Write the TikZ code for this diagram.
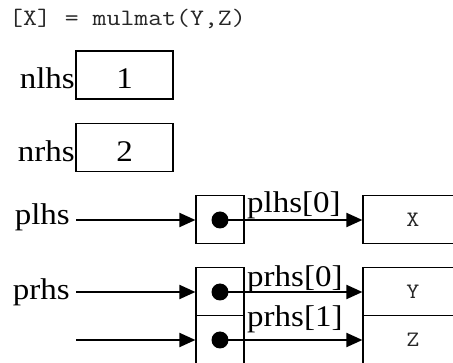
\documentclass[tikz,border=0pt]{standalone}
\usepackage{fontspec}
\setmainfont[FakeStretch=1.1]{Liberation Serif}
\newfontfamily\codefont[FakeStretch=1.15]{Latin Modern Mono}
\usepackage{tikz}
\usetikzlibrary{arrows.meta, positioning}

\begin{document}
\begin{tikzpicture}[
    x=1pt, y=-1pt,
    lbl/.style={font=\fontsize{30}{32}\selectfont, inner sep=3pt},
    numbox/.style={draw, line width=1.2pt, minimum width=97pt, minimum height=48pt,
        font=\fontsize{30}{32}\selectfont, text height=28pt, text depth=0pt},
    cell/.style={draw, line width=1.2pt, minimum width=48pt, minimum height=48pt, inner sep=0pt},
    dot/.style={circle, fill, minimum size=17pt, inner sep=0pt},
    mxbox/.style={draw, line width=1.2pt, minimum width=100pt, minimum height=48pt,
        font=\codefont\fontsize{22}{24}\selectfont, text=black!85},
    ptr/.style={line width=2pt, -{Triangle[length=16pt, width=14pt]}}
    ]
    \useasboundingbox (0,0) rectangle (453,363);

    % call line
    \node[anchor=base west, inner sep=0pt, font=\codefont\fontsize{23.5}{25}\selectfont, text=black!85]
        (call) at (9,26) {[X] = mulmat(Y,Z)};

    % counts
    \node[numbox] (nlhsbox) at (124.5,75) {1};
    \node[lbl, anchor=base east] (nlhs) at (78,89) {nlhs};
    \node[numbox] (nrhsbox) at (124.5,147.5) {2};
    \node[lbl, anchor=base east] (nrhs) at (78,162) {nrhs};

    % output pointers
    \node[lbl, anchor=base east] (plhs) at (73,225) {plhs};
    \coordinate (plin) at (76,220);
    \node[cell] (pcell) at (220,219.5) {};
    \node[dot] (pdot) at (220,220) {};
    \node[mxbox] (xbox) at (413,219.5) {X};
    \draw[ptr] (plin) -- (pcell.west |- plin);
    \draw[ptr] (pdot.center) -- (xbox.west |- pdot);
    \node[lbl, anchor=base west] (p0) at (244,213) {plhs[0]};

    % input pointers
    \node[lbl, anchor=base east] (prhs) at (73,300) {prhs};
    \coordinate (prin0) at (76,292);
    \coordinate (prin1) at (76,340);
    \node[cell] (rcell0) at (220,291.5) {};
    \node[cell] (rcell1) at (220,339.5) {};
    \node[dot] (rdot0) at (220,292) {};
    \node[dot] (rdot1) at (220,340) {};
    \node[mxbox] (ybox) at (413,291.5) {Y};
    \node[mxbox] (zbox) at (413,339.5) {Z};
    \draw[ptr] (prin0) -- (rcell0.west |- prin0);
    \draw[ptr] (prin1) -- (rcell1.west |- prin1);
    \draw[ptr] (rdot0.center) -- (ybox.west |- rdot0);
    \draw[ptr] (rdot1.center) -- (zbox.west |- rdot1);
    \node[lbl, anchor=base west] (r0) at (244,287) {prhs[0]};
    \node[lbl, anchor=base west] (r1) at (244,327) {prhs[1]};
\end{tikzpicture}
\end{document}
